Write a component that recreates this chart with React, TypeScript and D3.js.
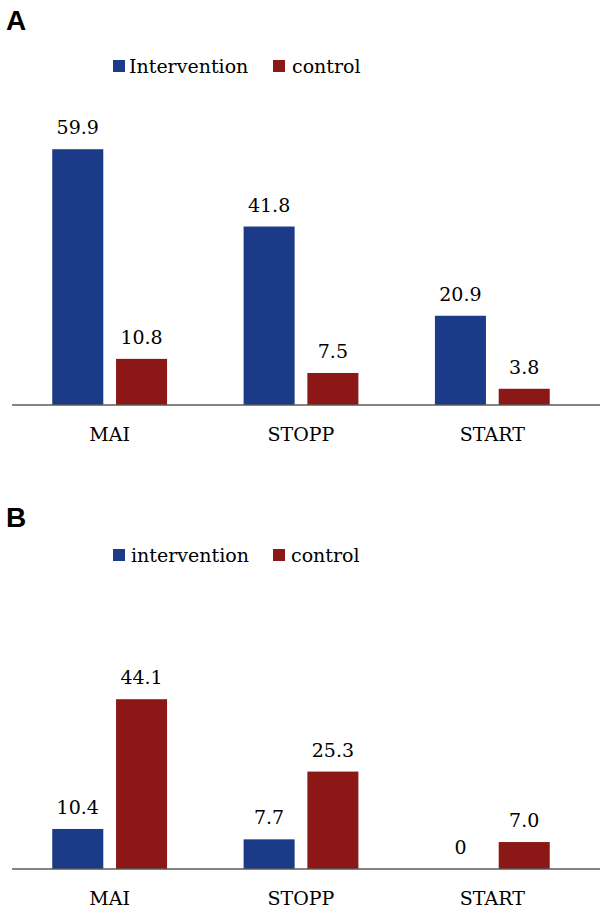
import React from "react";
import * as d3 from "d3";

const categories = ["MAI", "STOPP", "START"];
const seriesA = ["Intervention", "control"];
const seriesB = ["intervention", "control"];
const interventionA = [59.9, 41.8, 20.9];
const controlA = [10.8, 7.5, 3.8];
const interventionB = [10.4, 7.7, 0];
const controlB = [44.1, 25.3, 7.0];
const colors = ["#1B3A87", "#8B1717"];

const W = 608;
const H = 913;
const SERIF = "'DejaVu Serif', serif";

type PanelProps = {
  letter: string;
  letterY: number;
  series: string[];
  values: number[][];
  legendY: number;
  legendTextX: number[];
  baseline: number;
  yMax: number;
  pxPerUnit: number;
};

function Panel({ letter, letterY, series, values, legendY, legendTextX, baseline, yMax, pxPerUnit }: PanelProps) {
  const x0 = d3.scaleBand<string>().domain(categories).range([14, 588]).paddingInner(0.4).paddingOuter(0.2);
  const x1 = d3.scaleBand<string>().domain(series).range([0, x0.bandwidth()]).paddingInner(0.2);
  const y = d3.scaleLinear().domain([0, yMax]).range([baseline, baseline - yMax * pxPerUnit]);
  const fmt = (v: number) => (v === 0 ? "0" : v.toFixed(1));
  const squareX = [113, 273];
  return (
    <g>
      <text x={6} y={letterY} fontFamily="'Liberation Sans', Arial, sans-serif" fontWeight="bold" fontSize={28} fill="#000">
        {letter}
      </text>
      {series.map((s, i) => (
        <g key={s}>
          <rect x={squareX[i]} y={legendY - 13} width={12} height={12} fill={colors[i]} />
          <text x={legendTextX[i]} y={legendY} fontFamily={SERIF} fontSize={19} fill="#000">
            {s}
          </text>
        </g>
      ))}
      {categories.map((c, ci) => (
        <g key={c} transform={`translate(${x0(c)},0)`}>
          {series.map((s, si) => {
            const v = values[si][ci];
            const bx = x1(s)!;
            const bw = x1.bandwidth();
            return (
              <g key={s}>
                {v > 0 && (
                  <rect x={bx} y={y(v)} width={bw} height={baseline - y(v)} fill={colors[si]} />
                )}
                <text x={bx + bw / 2} y={y(v) - 15} textAnchor="middle" fontFamily={SERIF} fontSize={19} fill="#000">
                  {fmt(v)}
                </text>
              </g>
            );
          })}
          <text x={x0.bandwidth() / 2} y={baseline + 36} textAnchor="middle" fontFamily={SERIF} fontSize={19} fill="#000">
            {c}
          </text>
        </g>
      ))}
      <line x1={12} x2={600} y1={baseline} y2={baseline} stroke="#5a5a5a" strokeWidth={1.5} />
    </g>
  );
}

export default function App() {
  return (
    <svg width={W} height={H} style={{ position: "absolute", left: 0, top: 0, background: "#fff" }}>
      <rect width={W} height={H} fill="#fff" />
      <Panel
        letter="A"
        letterY={30}
        series={seriesA}
        values={[interventionA, controlA]}
        legendY={73}
        legendTextX={[129, 292]}
        baseline={405}
        yMax={70}
        pxPerUnit={4.27}
      />
      <Panel
        letter="B"
        letterY={527}
        series={seriesB}
        values={[interventionB, controlB]}
        legendY={562}
        legendTextX={[131, 291]}
        baseline={869}
        yMax={50}
        pxPerUnit={3.85}
      />
    </svg>
  );
}
